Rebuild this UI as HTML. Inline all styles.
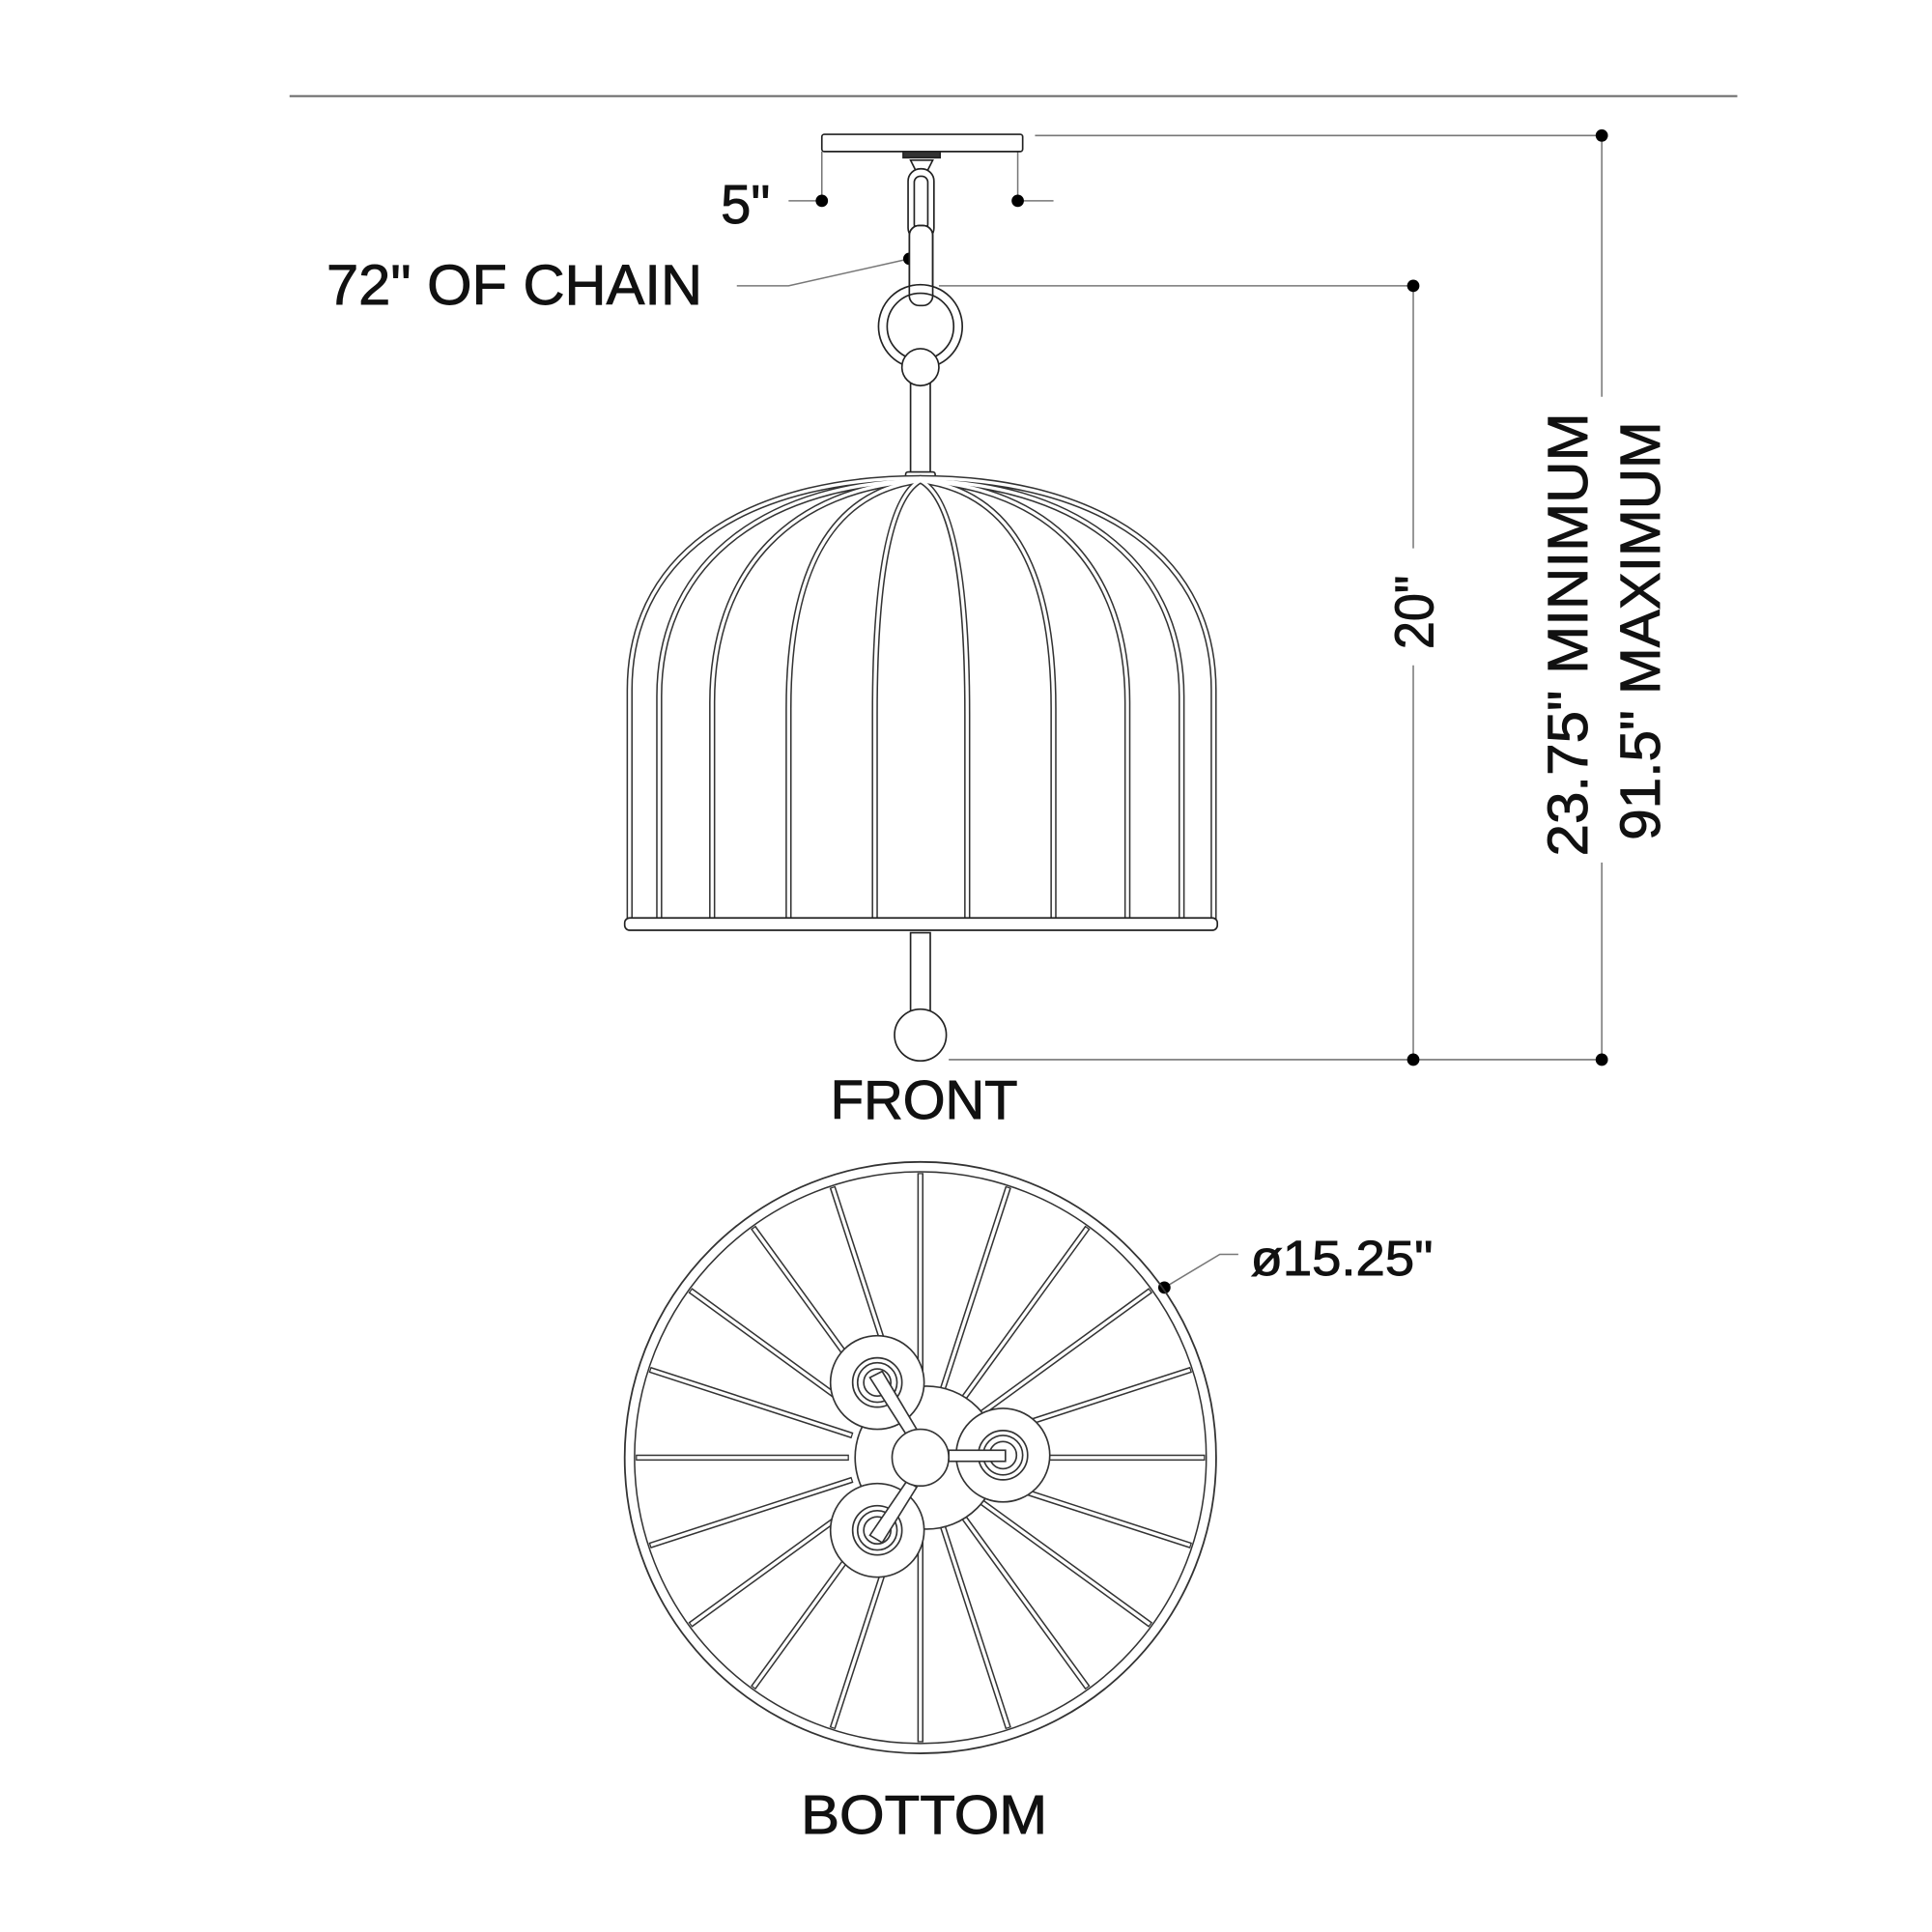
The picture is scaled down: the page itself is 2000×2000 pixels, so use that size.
<!DOCTYPE html>
<html><head><meta charset="utf-8"><style>
html,body{margin:0;padding:0;background:#fff;}
svg{display:block;}
text{font-family:"Liberation Sans",sans-serif;fill:#111;stroke:#111;stroke-width:0.7;}
</style></head><body>
<svg width="2000" height="2000" viewBox="0 0 1568 1568" xmlns="http://www.w3.org/2000/svg">
<rect width="1568" height="1568" fill="#fff"/>
<line x1="235" y1="78" x2="1410" y2="78" stroke="#666" stroke-width="1.5"/>

<g stroke="#777" stroke-width="1.2" fill="none">
<line x1="840" y1="110" x2="1300" y2="110"/>
<line x1="1300" y1="110" x2="1300" y2="322"/>
<line x1="1300" y1="700" x2="1300" y2="860"/>
<line x1="762" y1="232" x2="1147" y2="232"/>
<line x1="1147" y1="232" x2="1147" y2="445"/>
<line x1="1147" y1="540" x2="1147" y2="860"/>
<line x1="770" y1="860" x2="1300" y2="860"/>
<line x1="667" y1="123" x2="667" y2="163"/>
<line x1="826" y1="123" x2="826" y2="163"/>
<line x1="640" y1="163" x2="667" y2="163"/>
<line x1="826" y1="163" x2="855" y2="163"/>
<polyline points="598,232 640,232 738,210"/>
<polyline points="945,1045 990,1018 1005,1018"/>
</g>
<g fill="#000">
<circle cx="1300" cy="110" r="5"/>
<circle cx="1300" cy="860" r="5"/>
<circle cx="1147" cy="232" r="5"/>
<circle cx="1147" cy="860" r="5"/>
<circle cx="667" cy="163" r="5"/>
<circle cx="826" cy="163" r="5"/>
<circle cx="738" cy="210" r="5"/>
<circle cx="945" cy="1045" r="5"/>
</g>

<text x="585" y="181" font-size="44">5"</text>
<text x="265" y="247" font-size="46" textLength="305" lengthAdjust="spacingAndGlyphs">72" OF CHAIN</text>
<text x="750" y="908" font-size="44" text-anchor="middle" textLength="152" lengthAdjust="spacingAndGlyphs">FRONT</text>
<text x="750" y="1488" font-size="44" text-anchor="middle" textLength="200" lengthAdjust="spacingAndGlyphs">BOTTOM</text>
<text x="1015" y="1035" font-size="40" textLength="148" lengthAdjust="spacingAndGlyphs">ø15.25"</text>
<text transform="translate(1163,497) rotate(-90)" font-size="44" text-anchor="middle" textLength="60" lengthAdjust="spacingAndGlyphs">20"</text>
<text transform="translate(1288,515) rotate(-90)" font-size="46" text-anchor="middle" textLength="360" lengthAdjust="spacingAndGlyphs">23.75" MINIMUM</text>
<text transform="translate(1347,512) rotate(-90)" font-size="46" text-anchor="middle" textLength="340" lengthAdjust="spacingAndGlyphs">91.5" MAXIMUM</text>

<g stroke="#222" stroke-width="1.3" fill="#fff">
<rect x="667" y="109" width="163" height="14" rx="2"/>
<rect x="733" y="123" width="30" height="5" fill="#333"/>
<path d="M739,130 h18 l-4,8 h-10 z"/>
<rect x="737" y="137" width="21" height="58" rx="10"/>
<rect x="742" y="143" width="11" height="44" rx="5"/>
<rect x="738" y="183" width="19" height="65" rx="8"/>
<circle cx="747" cy="265" r="34"/>
<circle cx="747" cy="265" r="27"/>
<rect x="738" y="183" width="19" height="65" rx="8" fill="none"/>
<rect x="739" y="308" width="16" height="77"/>
<circle cx="747" cy="298" r="15"/>
<rect x="735" y="383" width="24" height="9" rx="2"/>
</g>

<g fill="none" stroke-linecap="round">
<g stroke="#333" stroke-width="5">
<path d="M511,748 L511,560 C511,440 620,388 747,388"/>
<path d="M535,748 L535,565 C535,450 630,392 747,390"/>
<path d="M578,748 L578,570 C578,460 645,396 747,390"/>
<path d="M640,748 L640,575 C640,470 670,400 747,390"/>
<path d="M710,748 L710,580 C710,480 720,405 747,390"/>
<path d="M785,748 L785,580 C785,480 775,405 747,390"/>
<path d="M855,748 L855,575 C855,470 825,400 747,390"/>
<path d="M915,748 L915,570 C915,460 850,396 747,390"/>
<path d="M959,748 L959,565 C959,450 865,392 747,390"/>
<path d="M985,748 L985,560 C985,440 875,388 747,388"/>
</g>
<g stroke="#fff" stroke-width="2.6">
<path d="M511,748 L511,560 C511,440 620,388 747,388"/>
<path d="M535,748 L535,565 C535,450 630,392 747,390"/>
<path d="M578,748 L578,570 C578,460 645,396 747,390"/>
<path d="M640,748 L640,575 C640,470 670,400 747,390"/>
<path d="M710,748 L710,580 C710,480 720,405 747,390"/>
<path d="M785,748 L785,580 C785,480 775,405 747,390"/>
<path d="M855,748 L855,575 C855,470 825,400 747,390"/>
<path d="M915,748 L915,570 C915,460 850,396 747,390"/>
<path d="M959,748 L959,565 C959,450 865,392 747,390"/>
<path d="M985,748 L985,560 C985,440 875,388 747,388"/>
</g>
</g>
<g stroke="#222" stroke-width="1.3" fill="#fff">
<rect x="507" y="745" width="481" height="10" rx="4"/>
<rect x="739" y="757" width="16" height="66"/>
<circle cx="747" cy="840" r="21"/>
</g>

<g fill="none" stroke="#333">
<circle cx="747" cy="1183" r="240" stroke-width="1.4"/>
<circle cx="747" cy="1183" r="232" stroke-width="1.2"/>
</g>
<g stroke="#333" stroke-width="5">
<line x1="747" y1="1125" x2="747" y2="952" transform="rotate(0 747 1183)"/>
<line x1="747" y1="1125" x2="747" y2="952" transform="rotate(18 747 1183)"/>
<line x1="747" y1="1125" x2="747" y2="952" transform="rotate(36 747 1183)"/>
<line x1="747" y1="1125" x2="747" y2="952" transform="rotate(54 747 1183)"/>
<line x1="747" y1="1125" x2="747" y2="952" transform="rotate(72 747 1183)"/>
<line x1="747" y1="1125" x2="747" y2="952" transform="rotate(90 747 1183)"/>
<line x1="747" y1="1125" x2="747" y2="952" transform="rotate(108 747 1183)"/>
<line x1="747" y1="1125" x2="747" y2="952" transform="rotate(126 747 1183)"/>
<line x1="747" y1="1125" x2="747" y2="952" transform="rotate(144 747 1183)"/>
<line x1="747" y1="1125" x2="747" y2="952" transform="rotate(162 747 1183)"/>
<line x1="747" y1="1125" x2="747" y2="952" transform="rotate(180 747 1183)"/>
<line x1="747" y1="1125" x2="747" y2="952" transform="rotate(198 747 1183)"/>
<line x1="747" y1="1125" x2="747" y2="952" transform="rotate(216 747 1183)"/>
<line x1="747" y1="1125" x2="747" y2="952" transform="rotate(234 747 1183)"/>
<line x1="747" y1="1125" x2="747" y2="952" transform="rotate(252 747 1183)"/>
<line x1="747" y1="1125" x2="747" y2="952" transform="rotate(270 747 1183)"/>
<line x1="747" y1="1125" x2="747" y2="952" transform="rotate(288 747 1183)"/>
<line x1="747" y1="1125" x2="747" y2="952" transform="rotate(306 747 1183)"/>
<line x1="747" y1="1125" x2="747" y2="952" transform="rotate(324 747 1183)"/>
<line x1="747" y1="1125" x2="747" y2="952" transform="rotate(342 747 1183)"/>
</g>
<g stroke="#fff" stroke-width="2.6">
<line x1="747" y1="1124" x2="747" y2="953" transform="rotate(0 747 1183)"/>
<line x1="747" y1="1124" x2="747" y2="953" transform="rotate(18 747 1183)"/>
<line x1="747" y1="1124" x2="747" y2="953" transform="rotate(36 747 1183)"/>
<line x1="747" y1="1124" x2="747" y2="953" transform="rotate(54 747 1183)"/>
<line x1="747" y1="1124" x2="747" y2="953" transform="rotate(72 747 1183)"/>
<line x1="747" y1="1124" x2="747" y2="953" transform="rotate(90 747 1183)"/>
<line x1="747" y1="1124" x2="747" y2="953" transform="rotate(108 747 1183)"/>
<line x1="747" y1="1124" x2="747" y2="953" transform="rotate(126 747 1183)"/>
<line x1="747" y1="1124" x2="747" y2="953" transform="rotate(144 747 1183)"/>
<line x1="747" y1="1124" x2="747" y2="953" transform="rotate(162 747 1183)"/>
<line x1="747" y1="1124" x2="747" y2="953" transform="rotate(180 747 1183)"/>
<line x1="747" y1="1124" x2="747" y2="953" transform="rotate(198 747 1183)"/>
<line x1="747" y1="1124" x2="747" y2="953" transform="rotate(216 747 1183)"/>
<line x1="747" y1="1124" x2="747" y2="953" transform="rotate(234 747 1183)"/>
<line x1="747" y1="1124" x2="747" y2="953" transform="rotate(252 747 1183)"/>
<line x1="747" y1="1124" x2="747" y2="953" transform="rotate(270 747 1183)"/>
<line x1="747" y1="1124" x2="747" y2="953" transform="rotate(288 747 1183)"/>
<line x1="747" y1="1124" x2="747" y2="953" transform="rotate(306 747 1183)"/>
<line x1="747" y1="1124" x2="747" y2="953" transform="rotate(324 747 1183)"/>
<line x1="747" y1="1124" x2="747" y2="953" transform="rotate(342 747 1183)"/>
</g>
<g stroke="#333" stroke-width="1.3" fill="#fff">
<circle cx="752" cy="1183" r="58"/>
<circle cx="712" cy="1122" r="38"/>
<circle cx="814" cy="1181" r="38"/>
<circle cx="712" cy="1242" r="38"/>
<g fill="none">
<circle cx="712" cy="1122" r="20"/><circle cx="712" cy="1122" r="16"/><circle cx="712" cy="1122" r="11"/>
<circle cx="814" cy="1181" r="20"/><circle cx="814" cy="1181" r="16"/><circle cx="814" cy="1181" r="11"/>
<circle cx="712" cy="1242" r="20"/><circle cx="712" cy="1242" r="16"/><circle cx="712" cy="1242" r="11"/>
</g>
<path d="M706,1118 L736,1165 L744,1160 L716,1113 Z"/>
<path d="M706,1246 L736,1202 L744,1207 L716,1252 Z"/>
<rect x="770" y="1177" width="46" height="9"/>
<circle cx="747" cy="1183" r="23"/>
</g>
</svg>
</body></html>
